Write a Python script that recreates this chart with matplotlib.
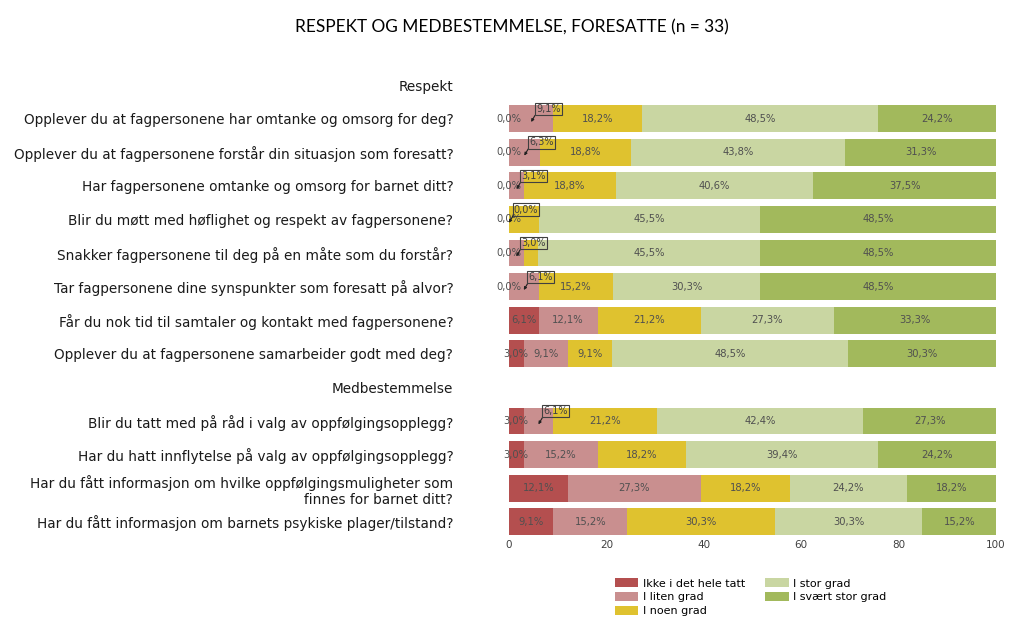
import numpy as np
import matplotlib
matplotlib.use('Agg')
import matplotlib.pyplot as plt

# data
title = "RESPEKT OG MEDBESTEMMELSE, FORESATTE (n = 33)"
sections = ["Respekt", "Medbestemmelse"]
questions_respekt = [
    "Opplever du at fagpersonene har omtanke og omsorg for deg?",
    "Opplever du at fagpersonene forstår din situasjon som foresatt?",
    "Har fagpersonene omtanke og omsorg for barnet ditt?",
    "Blir du møtt med høflighet og respekt av fagpersonene?",
    "Snakker fagpersonene til deg på en måte som du forstår?",
    "Tar fagpersonene dine synspunkter som foresatt på alvor?",
    "Får du nok tid til samtaler og kontakt med fagpersonene?",
    "Opplever du at fagpersonene samarbeider godt med deg?",
]
questions_medb = [
    "Blir du tatt med på råd i valg av oppfølgingsopplegg?",
    "Har du hatt innflytelse på valg av oppfølgingsopplegg?",
    "Har du fått informasjon om hvilke oppfølgingsmuligheter som\nfinnes for barnet ditt?",
    "Har du fått informasjon om barnets psykiske plager/tilstand?",
]
series = ["Ikke i det hele tatt", "I liten grad", "I noen grad", "I stor grad", "I svært stor grad"]
ikke = [0.0, 0.0, 0.0, 0.0, 0.0, 0.0, 6.1, 3.0, 3.0, 3.0, 12.1, 9.1]
liten = [9.1, 6.3, 3.1, 0.0, 3.0, 6.1, 12.1, 9.1, 6.1, 15.2, 27.3, 15.2]
noen = [18.2, 18.8, 18.8, 6.1, 3.0, 15.2, 21.2, 9.1, 21.2, 18.2, 18.2, 30.3]
stor = [48.5, 43.8, 40.6, 45.5, 45.5, 30.3, 27.3, 48.5, 42.4, 39.4, 24.2, 30.3]
svaert = [24.2, 31.3, 37.5, 48.5, 48.5, 48.5, 33.3, 30.3, 27.3, 24.2, 18.2, 15.2]
colors = ['#b44f4f', '#c98f8f', '#dfc22f', '#c9d6a2', '#a2b95c']

# labels drawn as boxed callouts / not drawn (row, series)
callouts = {(0, 1), (1, 1), (2, 1), (3, 1), (4, 1), (5, 1), (8, 1)}
hidden = {(3, 2), (4, 2)}

# slot layout: header, questions, header, questions
slot_labels = [sections[0]] + questions_respekt + [sections[1]] + questions_medb
bar_pos = list(range(1, 1 + len(questions_respekt))) + \
    list(range(2 + len(questions_respekt), 2 + len(questions_respekt) + len(questions_medb)))

vals = np.array([ikke, liten, noen, stor, svaert])

fig = plt.figure(figsize=(10.24, 6.28), dpi=100)
ax = fig.add_axes([0.497, 0.145, 0.4757, 0.749])

left = np.zeros(len(bar_pos))
for i, name in enumerate(series):
    ax.barh(bar_pos, vals[i], left=left, height=0.8, color=colors[i], label=name)
    for r, (y, v, l) in enumerate(zip(bar_pos, vals[i], left)):
        if (r, i) in hidden:
            continue
        txt = f"{v:.1f}%".replace('.', ',')
        cx = l + v / 2
        if (r, i) in callouts:
            ax.annotate(txt, xy=(cx, y + 0.1), xytext=(3.5, 9.5), textcoords='offset points',
                        ha='left', va='center', fontsize=7, color='#404040',
                        bbox=dict(boxstyle='square,pad=0.12', fc='none', ec='#404040', lw=0.8),
                        arrowprops=dict(arrowstyle='-|>', color='#202020', lw=0.8,
                                        mutation_scale=4, relpos=(0, 0),
                                        shrinkA=0, shrinkB=0))
        else:
            ax.text(cx, y, txt, ha='center', va='center', fontsize=7.2, color='#505050')
    left = left + vals[i]

ax.set_xlim(0, 100)
ax.set_ylim(len(slot_labels) - 0.55, -0.55)
ax.set_yticks(range(len(slot_labels)))
ax.set_yticklabels(slot_labels, fontsize=9.85, color='#1a1a1a')
ax.set_xticks([0, 20, 40, 60, 80, 100])
ax.tick_params(axis='y', length=0, pad=40)
ax.tick_params(axis='x', length=0, pad=2, labelsize=7.5, labelcolor='#404040')
for s in ax.spines.values():
    s.set_visible(False)

fig.text(0.5, 0.957, title, ha='center', va='center', fontsize=12.4, family='Lato')

fig.legend(loc='center', ncol=2, bbox_to_anchor=(0.733, 0.049), frameon=False,
           fontsize=8, handlelength=2.15, handleheight=0.9, columnspacing=1.8,
           labelspacing=0.3, handletextpad=0.4)

fig.savefig('out.png', dpi=100)
